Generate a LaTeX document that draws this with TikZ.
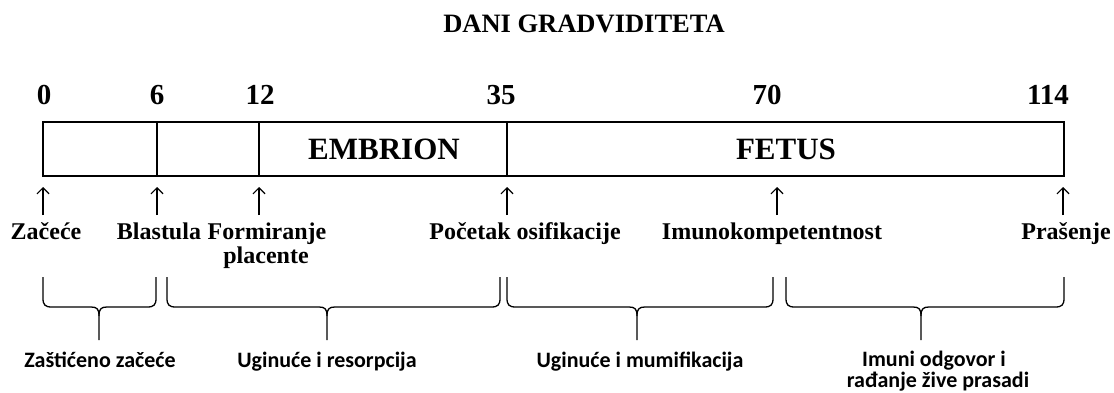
\documentclass[tikz,border=0pt]{standalone}
\usepackage{fontspec}
\setmainfont{Liberation Serif}
\newfontfamily\sanslab{Carlito}
\usetikzlibrary{arrows.meta}
\newcommand\mybrace[3]{%
  \draw[bracestyle] (#1,277) -- (#1,298) .. controls (#1,305) and (#1+2,307) .. (#1+9,307)
    -- (#2-8,307) .. controls (#2-2,307) and (#2,309) .. (#2,316) -- (#2,340);
  \draw[bracestyle] (#2,316) .. controls (#2,309) and (#2+2,307) .. (#2+8,307)
    -- (#3-9,307) .. controls (#3-2,307) and (#3,305) .. (#3,298) -- (#3,277);}
\begin{document}
\begin{tikzpicture}[x=1pt,y=-1pt,
  titlestyle/.style={font=\bfseries\fontsize{26.5}{28}\selectfont,anchor=base,inner sep=0pt},
  numstyle/.style={font=\bfseries\fontsize{29}{31}\selectfont,anchor=base,inner sep=0pt},
  phasestyle/.style={font=\bfseries\fontsize{31}{33}\selectfont,anchor=base,inner sep=0pt},
  eventstyle/.style={font=\bfseries\fontsize{24}{21}\selectfont,anchor=base,inner sep=0pt},
  outstyle/.style={font=\sanslab\bfseries\fontsize{22}{24}\selectfont,anchor=base,inner sep=0pt},
  barstyle/.style={draw=black,line width=1.8pt},
  divstyle/.style={draw=black,line width=1.5pt},
  arrowstyle/.style={draw=black,line width=1.2pt,-{Straight Barb[length=6pt,width=12pt,line width=1.2pt]}},
  bracestyle/.style={draw=black,line width=1.3pt,line join=round}]
\useasboundingbox (0,0) rectangle (1114,393);

% title and day numbers
\node[titlestyle] (title) at (584,33) {DANI GRADVIDITETA};
\node[numstyle] (n0) at (44,105) {0};
\node[numstyle] (n6) at (157,105) {6};
\node[numstyle] (n12) at (260,105) {12};
\node[numstyle] (n35) at (501,105) {35};
\node[numstyle] (n70) at (767,105) {70};
\node[numstyle] (n114) at (1048,105) {114};

% timeline bar
\draw[barstyle] (43,122) rectangle (1064,176);
\coordinate (d6t) at (157,122); \coordinate (d6b) at (157,176);
\coordinate (d12t) at (259,122); \coordinate (d12b) at (259,176);
\coordinate (d35t) at (507,122); \coordinate (d35b) at (507,176);
\draw[divstyle] (d6t) -- (d6b);
\draw[divstyle] (d12t) -- (d12b);
\draw[divstyle] (d35t) -- (d35b);
\node[phasestyle] (embrion) at (384,160) {EMBRION};
\node[phasestyle] (fetus) at (786,160) {FETUS};

% arrows
\foreach \nm/\xx in {a0/43,a6/157,a12/259,a35/507,a70/777,a114/1063}{
  \coordinate (\nm s) at (\xx,215);
  \coordinate (\nm e) at (\xx,187);
  \draw[arrowstyle] (\nm s) -- (\nm e);
}

% event labels
\node[eventstyle] (zacece) at (46,239) {Začeće};
\node[eventstyle] (blastula) at (159,239) {Blastula};
\node[eventstyle] (form1) at (267,239) {Formiranje};
\node[eventstyle] (form2) at (266,263) {placente};
\node[eventstyle] (pocetak) at (525,239) {Početak osifikacije};
\node[eventstyle] (imuno) at (772,239) {Imunokompetentnost};
\node[eventstyle] (prasenje) at (1066,239) {Prašenje};

% braces
\mybrace{43}{99}{156}
\mybrace{167}{327}{500}
\mybrace{507}{637}{773}
\mybrace{786}{921}{1064}

% outcome labels
\node[outstyle] (zasticeno) at (100,367) {Zaštićeno začeće};
\node[outstyle] (resorpcija) at (327,367) {Uginuće i resorpcija};
\node[outstyle] (mumifikacija) at (640,367) {Uginuće i mumifikacija};
\node[outstyle] (imuni1) at (934,366) {Imuni odgovor i};
\node[outstyle] (imuni2) at (938,387) {rađanje žive prasadi};
\end{tikzpicture}
\end{document}
